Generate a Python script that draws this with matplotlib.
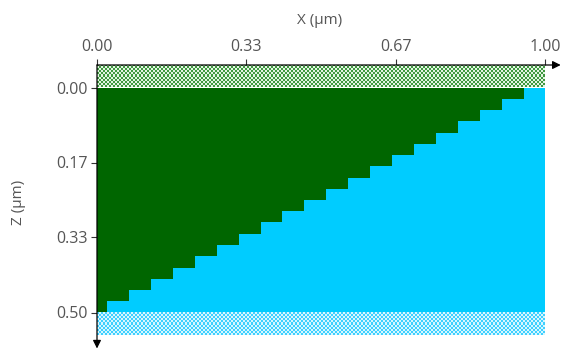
import numpy as np
import matplotlib
matplotlib.use("Agg")
import matplotlib.pyplot as plt
from matplotlib.colors import ListedColormap

# ---- data ----
x_edges = [0.0, 0.022, 0.071, 0.120, 0.169, 0.218, 0.267, 0.316, 0.365, 0.414,
           0.463, 0.512, 0.561, 0.610, 0.659, 0.708, 0.757, 0.806, 0.855, 0.904,
           0.953, 1.0]
green_depth = [0.500, 0.475, 0.450, 0.425, 0.400, 0.375, 0.350, 0.325, 0.300,
               0.275, 0.250, 0.225, 0.200, 0.175, 0.150, 0.125, 0.100, 0.075,
               0.050, 0.025, 0.000]
x_ticks = [0.0, 1/3, 2/3, 1.0]
x_tick_labels = ["0.00", "0.33", "0.67", "1.00"]
z_ticks = [0.0, 1/6, 1/3, 0.5]
z_tick_labels = ["0.00", "0.17", "0.33", "0.50"]
layer_top = (-0.05, 0.0)      # hatched layer above
layer_bottom = (0.5, 0.55)    # hatched layer below

GREEN = "#006600"
CYAN = "#00CCFF"
TXT = "#555555"

plt.rcParams['font.family'] = ['Open Sans', 'DejaVu Sans']

W, H = 567, 351
fig = plt.figure(figsize=(W/100, H/100), dpi=100)
x0, x1 = 97, 545
y0, y1 = 65, 335
ax = fig.add_axes([x0/W, 1 - y1/H, (x1-x0)/W, (y1-y0)/H])
ax.set_xlim(0, 1)
ax.set_ylim(layer_bottom[1], layer_top[0])

# cyan base
ax.fill_between([0, 1], 0, 0.5, color=CYAN, linewidth=0)
# green staircase
ax.stairs(green_depth, x_edges, baseline=0, fill=True, color=GREEN, linewidth=0)

# checker layers
def checker(n_rows, n_cols):
    r = np.arange(n_rows)[:, None]
    c = np.arange(n_cols)[None, :]
    return (r + c) % 2

cmap_g = ListedColormap(["#3f983f", "#e2f4e2"])
cmap_c = ListedColormap(["#3fd0ff", "#d8f6ff"])
ax.imshow(checker(11, 224), cmap=cmap_g, extent=[0, 1, layer_top[1], layer_top[0]],
          interpolation='nearest', aspect='auto', zorder=2)
ax.imshow(checker(11, 224), cmap=cmap_c, extent=[0, 1, layer_bottom[1], layer_bottom[0]],
          interpolation='nearest', aspect='auto', zorder=2)
ax.set_xlim(0, 1)
ax.set_ylim(layer_bottom[1], layer_top[0])

for s in ax.spines.values():
    s.set_visible(False)

ax.xaxis.tick_top()
ax.set_xticks(x_ticks)
ax.set_xticklabels(x_tick_labels)
ax.set_yticks(z_ticks)
ax.set_yticklabels(z_tick_labels)
ax.tick_params(axis='x', direction='out', length=4, width=0.8, color='#333333',
               labelsize=11.5, labelcolor=TXT, pad=3)
ax.tick_params(axis='y', direction='out', length=4, width=0.8, color='#333333',
               labelsize=11.5, labelcolor=TXT, pad=3)

# arrow axes
ax.annotate("", xy=(1.035, layer_top[0]), xytext=(0, layer_top[0]),
            xycoords='data', annotation_clip=False,
            arrowprops=dict(arrowstyle='-|>', color='black', lw=0.9,
                            mutation_scale=12, shrinkA=0, shrinkB=0))
ax.annotate("", xy=(0, 0.58), xytext=(0, layer_top[0]),
            xycoords='data', annotation_clip=False,
            arrowprops=dict(arrowstyle='-|>', color='black', lw=0.9,
                            mutation_scale=12, shrinkA=0, shrinkB=0))

fig.text(320/W, 1 - 21/H, "X (μm)", ha='center', va='center', fontsize=11, color=TXT)
fig.text(18/W, 1 - 202/H, "Z (μm)", ha='center', va='center', rotation=90,
         fontsize=11, color=TXT)

fig.savefig("out.png", dpi=100)
